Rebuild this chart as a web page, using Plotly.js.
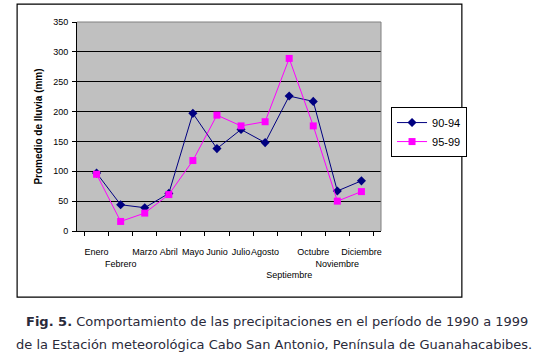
<!DOCTYPE html>
<html>
<head>
<meta charset="utf-8">
<script src="https://cdn.plot.ly/plotly-3.0.1.min.js"></script>
<style>html,body{margin:0;padding:0;background:#fff;}#chart{width:552px;height:356px;}</style>
</head>
<body>
<div id="chart"></div>
<script>
var months = ["Enero","Febrero","Marzo","Abril","Mayo","Junio","Julio","Agosto","Septiembre","Octubre","Noviembre","Diciembre"];
var monthLabels = ["Enero","<br>Febrero","Marzo","Abril","Mayo","Junio","Julio","Agosto","<br><br>Septiembre","Octubre","<br>Noviembre","Diciembre"];
var series9094 = [97, 44, 39, 63, 197, 138, 170, 148, 226, 217, 67, 84];
var series9599 = [95, 16, 30, 61, 118, 194, 176, 183, 289, 176, 50, 66];
var yTicks = [0, 50, 100, 150, 200, 250, 300, 350];
var captionLine1 = "<b>Fig. 5.</b> Comportamiento de las precipitaciones en el período de 1990 a 1999";
var captionLine2 = "de la Estación meteorológica Cabo San Antonio, Península de Guanahacabibes.";

var traces = [
  {x: months, y: series9094, name: "90-94", type: "scatter", mode: "lines+markers",
   line: {color: "#000080", width: 1}, marker: {symbol: "diamond", size: 7, color: "#000080"}},
  {x: months, y: series9599, name: "95-99", type: "scatter", mode: "lines+markers",
   line: {color: "#FF00FF", width: 1}, marker: {symbol: "square", size: 7, color: "#FF00FF"}}
];

var layout = {
  width: 552, height: 356,
  margin: {l: 77, r: 171, t: 22, b: 125},
  paper_bgcolor: "#ffffff",
  plot_bgcolor: "#C0C0C0",
  font: {family: "Liberation Sans, Arial, sans-serif", size: 8, color: "#000"},
  showlegend: true,
  legend: {x: 1.033, y: 0.593, xanchor: "left", yanchor: "top", bgcolor: "#fff",
           bordercolor: "#000", borderwidth: 1, font: {size: 11, family: "Liberation Sans, Arial, sans-serif"},
           tracegroupgap: 2, itemwidth: 30},
  xaxis: {type: "category", tickmode: "array", tickvals: months, ticktext: monthLabels,
          tickangle: 0, tickson: "boundaries", ticks: "outside", ticklen: 4, tickcolor: "#000",
          showline: true, linecolor: "#000", linewidth: 1, showgrid: false, zeroline: false,
          tickfont: {size: 9, color: "#000"}, ticklabelstandoff: 12, mirror: false},
  yaxis: {range: [0, 350], tickvals: yTicks, ticks: "outside", ticklen: 4, tickcolor: "#000",
          showline: true, linecolor: "#000", linewidth: 1, showgrid: true, gridcolor: "#000", gridwidth: 1,
          zeroline: false, tickfont: {size: 9, color: "#000"}, ticklabelstandoff: 2,
          title: {text: "<b>Promedio de lluvia (mm)</b>", font: {size: 10, color: "#000"}, standoff: 8}},
  shapes: [
    {type: "line", xref: "paper", yref: "paper", x0: 0, x1: 1, y0: 1, y1: 1, line: {color: "#808080", width: 1}},
    {type: "line", xref: "paper", yref: "paper", x0: 1, x1: 1, y0: 0, y1: 1, line: {color: "#808080", width: 1}},
    {type: "rect", xref: "paper", yref: "paper", x0: -0.197, x1: 1.266, y0: -0.316, y1: 1.086,
     line: {color: "#000", width: 1.2}, fillcolor: "rgba(0,0,0,0)", layer: "below"}
  ],
  annotations: [
    {text: captionLine1, xref: "paper", yref: "paper", x: 0.658, y: -0.435, xanchor: "center", yanchor: "middle",
     showarrow: false, font: {family: "DejaVu Sans, Verdana, sans-serif", size: 13, color: "#2a2a3a"}},
    {text: captionLine2, xref: "paper", yref: "paper", x: 0.648, y: -0.545, xanchor: "center", yanchor: "middle",
     showarrow: false, font: {family: "DejaVu Sans, Verdana, sans-serif", size: 13, color: "#2a2a3a"}}
  ]
};

Plotly.newPlot("chart", traces, layout, {displayModeBar: false, staticPlot: true});
</script>
</body>
</html>
